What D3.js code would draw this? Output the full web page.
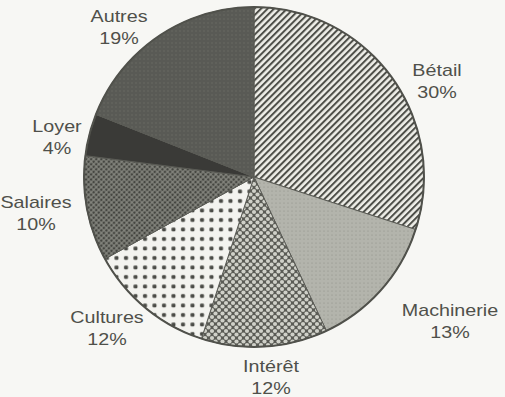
<!DOCTYPE html>
<html><head><meta charset="utf-8">
<script src="https://cdn.jsdelivr.net/npm/d3@7"></script>
<style>html,body{margin:0;padding:0;background:#f7f7f4;}svg{display:block;}</style>
</head><body>
<script>
const categories = ["Bétail","Machinerie","Intérêt","Cultures","Salaires","Loyer","Autres"];
const values = [30,13,12,12,10,4,19];
const labels = ["30%","13%","12%","12%","10%","4%","19%"];
const fills = ["url(#pBetail)","url(#pMach)","url(#pInteret)","url(#pCult)","url(#pSal)","#3a3a37","url(#pAutres)"];
// label anchor positions (centre of first line)
const labelPos = [[437,76],[450,316],[271,372],[107,323],[36,208],[57,132],[119,22]];

const W=505,H=397;
const svg=d3.select("body").append("svg").attr("width",W).attr("height",H);
svg.append("rect").attr("width",W).attr("height",H).attr("fill","#f7f7f4");
const defs=svg.append("defs");

// Bétail stripes
let p=defs.append("pattern").attr("id","pBetail").attr("patternUnits","userSpaceOnUse")
 .attr("width",4.6).attr("height",10).attr("patternTransform","rotate(45)");
p.append("rect").attr("width",4.6).attr("height",10).attr("fill","#eeeee8");
p.append("rect").attr("width",2.0).attr("height",10).attr("fill","#4d4e48");
// Machinerie
p=defs.append("pattern").attr("id","pMach").attr("patternUnits","userSpaceOnUse").attr("width",4).attr("height",4);
p.append("rect").attr("width",4).attr("height",4).attr("fill","#b3b4ac");
p.append("circle").attr("cx",2).attr("cy",2).attr("r",0.6).attr("fill","#8e8f88");
// Intérêt
p=defs.append("pattern").attr("id","pInteret").attr("patternUnits","userSpaceOnUse").attr("width",7).attr("height",7);
p.append("rect").attr("width",7).attr("height",7).attr("fill","#5a5b55");
[[0,0],[7,0],[0,7],[7,7],[3.5,3.5]].forEach(d=>p.append("circle").attr("cx",d[0]).attr("cy",d[1]).attr("r",2.1).attr("fill","#cfd0c8"));
// Cultures
p=defs.append("pattern").attr("id","pCult").attr("patternUnits","userSpaceOnUse").attr("width",9.5).attr("height",9.5);
p.append("rect").attr("width",9.5).attr("height",9.5).attr("fill","#f3f3ef");
p.append("rect").attr("x",3).attr("y",3).attr("width",4).attr("height",4).attr("rx",1.2).attr("fill","#4a4b46");
// Salaires
p=defs.append("pattern").attr("id","pSal").attr("patternUnits","userSpaceOnUse").attr("width",3.6).attr("height",3.6).attr("patternTransform","rotate(45)");
p.append("rect").attr("width",3.6).attr("height",3.6).attr("fill","#82837c");
p.append("circle").attr("cx",1.8).attr("cy",1.8).attr("r",1.3).attr("fill","#454641");
// Autres
p=defs.append("pattern").attr("id","pAutres").attr("patternUnits","userSpaceOnUse").attr("width",4).attr("height",4);
p.append("rect").attr("width",4).attr("height",4).attr("fill","#595a55");
p.append("circle").attr("cx",2).attr("cy",2).attr("r",0.8).attr("fill","#686963");

const cx=254,cy=177,r=170;
const pie=d3.pie().sort(null).value(d=>d);
const arc=d3.arc().innerRadius(0).outerRadius(r);
const g=svg.append("g").attr("transform",`translate(${cx},${cy})`);
g.selectAll("path").data(pie(values)).join("path")
 .attr("d",arc).attr("fill",(d,i)=>fills[i]).attr("stroke","#5a5b55").attr("stroke-width",1);
g.append("circle").attr("r",r).attr("fill","none").attr("stroke","#50514b").attr("stroke-width",2);

const t=svg.append("g").attr("font-family","Liberation Sans, Arial, sans-serif").attr("font-size",17).attr("fill","#4f504a").attr("text-anchor","middle");
categories.forEach((c,i)=>{
  const [x,y]=labelPos[i];
  const tg=t.append("g").attr("transform",`translate(${x},${y}) scale(1.16,1)`);
  tg.append("text").attr("x",0).attr("y",0).text(c);
  tg.append("text").attr("x",0).attr("y",22).text(labels[i]);
});
</script>
</body></html>
